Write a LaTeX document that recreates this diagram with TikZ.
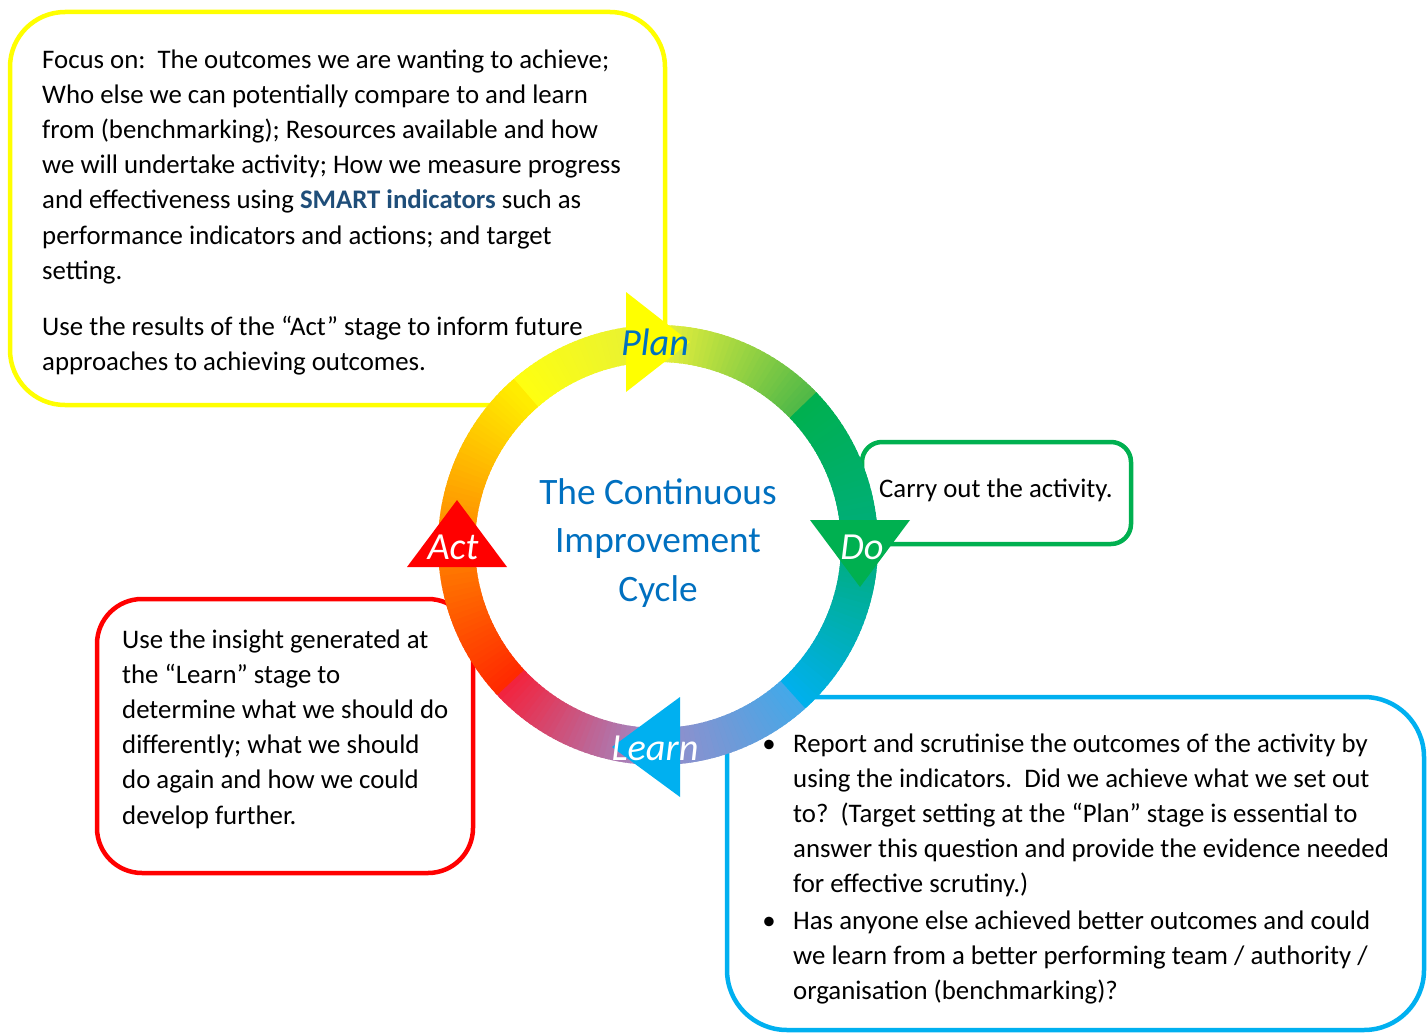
\documentclass[tikz,border=0pt]{standalone}
\usepackage{fontspec}
\setmainfont{Carlito}
\definecolor{cyel}{HTML}{FFFF00}
\definecolor{cgrn}{HTML}{00B050}
\definecolor{cred}{HTML}{FF0000}
\definecolor{cblu}{HTML}{00B0F0}
\definecolor{ctxt}{HTML}{0070C0}
\definecolor{csmart}{HTML}{1F4E79}
% ring colour stops
\definecolor{pA}{HTML}{FFFF10}
\definecolor{pB}{HTML}{E2EE3C}
\definecolor{pC}{HTML}{4CB748}
\definecolor{dA}{HTML}{00B050}
\definecolor{dB}{HTML}{00AE80}
\definecolor{dC}{HTML}{00B0F0}
\definecolor{lA}{HTML}{45A8E8}
\definecolor{lB}{HTML}{A08AC6}
\definecolor{lC}{HTML}{F5203A}
\definecolor{aA}{HTML}{FF2A00}
\definecolor{aB}{HTML}{FF8C00}
\definecolor{aC}{HTML}{FFF000}
\tikzset{
  box/.style={line width=4.5pt, fill=white},
  bodytext/.style={inner sep=0pt, align=left, anchor=base west,
    font=\fontsize{26.8}{35.2}\selectfont},
  stagelabel/.style={font=\fontsize{38.3}{40}\selectfont\itshape, inner sep=0pt},
  bul/.style={inner sep=0pt, anchor=base, font=\fontsize{26.8}{35.2}\selectfont}
}
\begin{document}
\begin{tikzpicture}[x=1pt,y=-1pt]
\useasboundingbox (0,0) rectangle (1427,1033);
% boxes
\draw[box, draw=cyel, rounded corners=55pt] (10,12) rectangle (665,405);
\draw[box, draw=cgrn, rounded corners=20pt] (862,442) rectangle (1131,544);
\draw[box, draw=cred, rounded corners=45pt] (97,599) rectangle (473,873);
\draw[box, draw=cblu, rounded corners=60pt] (727,697) rectangle (1424,1030);
% ring
\begin{scope}[shift={(658,545)}, yscale=-1]
\fill[white] (0,0) circle[radius=184];
\foreach \a/\b/\ca/\cm/\cb in {132/44/pA/pB/pC, 44/-48/dA/dB/dC, -48/-137/lA/lB/lC, -137/-228/aA/aB/aC}{
  \foreach \i in {0,...,59}{
    \pgfmathsetmacro\s{\a+(\b-\a)*\i/60}
    \pgfmathsetmacro\e{\a+(\b-\a)*(\i+1.7)/60}
    \ifnum\i<30
      \pgfmathtruncatemacro\p{100*\i/30}
      \colorlet{segc}{\cm!\p!\ca}
    \else
      \pgfmathtruncatemacro\p{100*(\i-30)/30}
      \colorlet{segc}{\cb!\p!\cm}
    \fi
    \fill[segc] (\s:183) arc[start angle=\s, end angle=\e, radius=183]
      -- (\e:220) arc[start angle=\e, end angle=\s, radius=220] -- cycle;
  }
}
\end{scope}
% arrow heads
\fill[cyel] (626,292) -- (690,342) -- (626,392) -- cycle;
\fill[cgrn] (810,520) -- (910,520) -- (860,587) -- cycle;
\fill[cblu] (680,697) -- (680,797) -- (612,747) -- cycle;
\fill[cred] (407,567) -- (507,567) -- (457,500) -- cycle;
% stage labels
\node[stagelabel, text=ctxt] (plan) at (655,342) {Plan};
\node[stagelabel, text=white] (do) at (862,547) {Do};
\node[stagelabel, text=white] (learn) at (655,748) {Learn};
\node[stagelabel, text=white] (act) at (453,547) {Act};
% centre title
\node[align=center, text=ctxt, inner sep=0pt, font=\fontsize{37.3}{48.5}\selectfont]
  (title) at (658,543) {The Continuous\\Improvement\\Cycle};
% box texts (anchored at the baseline of their last line)
\node[bodytext] (plantext) at (42,370.6) {Focus on:\ \ The outcomes we are wanting to achieve;\\
Who else we can potentially compare to and learn\\
from (benchmarking); Resources available and how\\
we will undertake activity; How we measure progress\\
and effectiveness using {\bfseries\color{csmart}SMART indicators} such as\\
performance indicators and actions; and target\\
setting.\\[21pt]
Use the results of the “Act” stage to inform future\\
approaches to achieving outcomes.};
\node[bodytext] (dotext) at (879,497) {Carry out the activity.};
\node[bodytext] (acttext) at (122,824) {Use the insight generated at\\
the “Learn” stage to\\
determine what we should do\\
differently; what we should\\
do again and how we could\\
develop further.};
\node[bul] (b1) at (769,752) {•};
\node[bodytext] (learntext1) at (793,892.8) {Report and scrutinise the outcomes of the activity by\\
using the indicators.\ \ Did we achieve what we set out\\
to?\ \ (Target setting at the “Plan” stage is essential to\\
answer this question and provide the evidence needed\\
for effective scrutiny.)};
\node[bul] (b2) at (769,929) {•};
\node[bodytext] (learntext2) at (793,999.4) {Has anyone else achieved better outcomes and could\\
we learn from a better performing team / authority /\\
organisation (benchmarking)?};
\end{tikzpicture}
\end{document}
